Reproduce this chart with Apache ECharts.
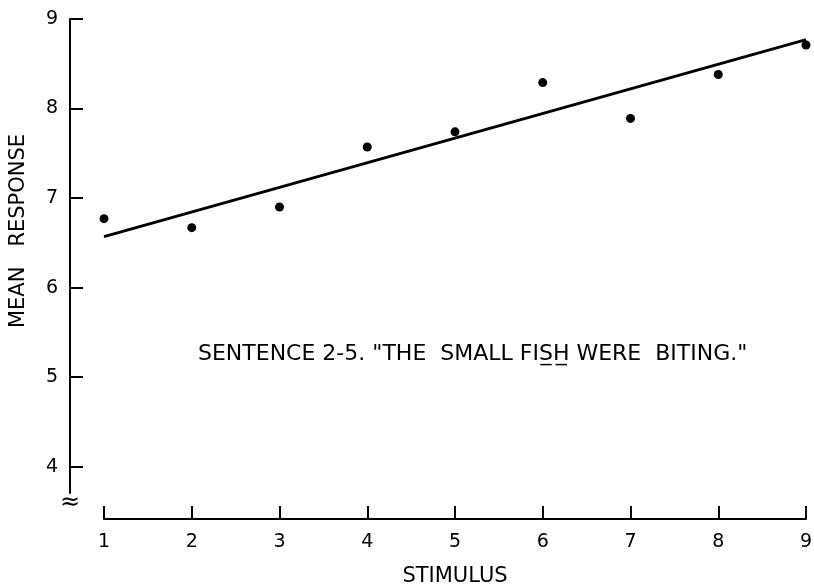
<!DOCTYPE html>
<html><head><meta charset="utf-8">
<script src="https://cdn.jsdelivr.net/npm/echarts@6/dist/echarts.min.js"></script>
<style>html,body{margin:0;padding:0;background:#fff}#c{width:814px;height:584px}</style>
</head><body><div id="c"></div>
<script>
const stimulus = [1, 2, 3, 4, 5, 6, 7, 8, 9];
const meanResponse = [6.77, 6.67, 6.90, 7.57, 7.74, 8.29, 7.89, 8.38, 8.71];
const fitLineX = [1, 9];
const fitLineY = [6.57, 8.77];
const xTicks = [1, 2, 3, 4, 5, 6, 7, 8, 9];
const yTicks = [4, 5, 6, 7, 8, 9];
const xTitle = 'STIMULUS';
const yTitle = 'MEAN   RESPONSE';
const note = 'SENTENCE 2-5. "THE  SMALL FIS\u0332H\u0332 WERE  BITING."';
const breakMark = '\u2248';

const FONT = 'DejaVu Sans';
const INK = '#000';

const chart = echarts.init(document.getElementById('c'), null, {renderer: 'canvas'});
chart.setOption({
  animation: false,
  backgroundColor: '#fff',
  grid: [
    {left: 104, right: 8, top: 19, bottom: 65, outerBoundsMode: 'none', containLabel: false},
    {left: 70, right: 8, top: 19, bottom: 91, outerBoundsMode: 'none', containLabel: false}
  ],
  xAxis: [
    {
      gridIndex: 0, type: 'value', min: 1, max: 9, interval: 1,
      name: xTitle, nameLocation: 'middle', nameGap: 47,
      nameTextStyle: {fontFamily: FONT, fontSize: 21, color: INK},
      axisLine: {show: true, onZero: false, lineStyle: {color: INK, width: 2}},
      axisTick: {show: true, inside: true, length: 13, customValues: xTicks, lineStyle: {color: INK, width: 2}},
      axisLabel: {show: true, customValues: xTicks, margin: 14, fontFamily: FONT, fontSize: 19, color: INK},
      splitLine: {show: false}
    },
    {gridIndex: 1, type: 'value', min: 1, max: 9, show: false}
  ],
  yAxis: [
    {gridIndex: 0, type: 'value', min: 3.416, max: 9, show: false},
    {
      gridIndex: 1, type: 'value', min: 3.707, max: 9,
      name: breakMark, nameLocation: 'start', nameGap: -2,
      nameTextStyle: {fontFamily: FONT, fontSize: 24, color: INK},
      axisLine: {show: true, onZero: false, lineStyle: {color: INK, width: 2}},
      axisTick: {show: true, inside: true, length: 13, customValues: yTicks, lineStyle: {color: INK, width: 2}},
      axisLabel: {show: true, customValues: yTicks, margin: 12, fontFamily: FONT, fontSize: 19, color: INK},
      splitLine: {show: false}
    }
  ],
  graphic: [
    {
      type: 'text', x: 19, y: 231, rotation: Math.PI / 2,
      style: {text: yTitle, fontFamily: FONT, fontSize: 21, fill: INK, align: 'center', verticalAlign: 'middle'}
    },
    {
      type: 'text', left: 198, top: 343,
      style: {text: note, fontFamily: FONT, fontSize: 22, fill: INK}
    }
  ],
  series: [
    {
      type: 'line', xAxisIndex: 0, yAxisIndex: 0,
      data: fitLineX.map((x, i) => [x, fitLineY[i]]),
      symbol: 'none', lineStyle: {color: INK, width: 3}, silent: true
    },
    {
      type: 'scatter', xAxisIndex: 0, yAxisIndex: 0,
      data: stimulus.map((x, i) => [x, meanResponse[i]]),
      symbol: 'circle', symbolSize: 9, itemStyle: {color: INK, opacity: 1}
    }
  ]
});
</script>
</body></html>
